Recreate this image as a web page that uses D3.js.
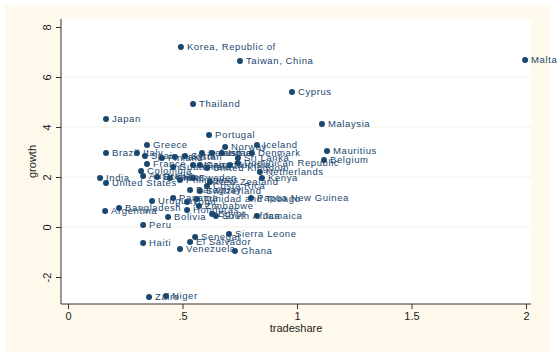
<!DOCTYPE html>
<html><head><meta charset="utf-8">
<script src="https://cdn.jsdelivr.net/npm/d3@7"></script>
<style>
html,body{margin:0;padding:0;background:#fff;}
svg{display:block;font-family:"Liberation Sans",Arial,sans-serif;}
</style></head>
<body>
<script>
const countries = ["Korea, Republic of","Taiwan, China","Malta","Cyprus","Thailand","Japan","Malaysia","Portugal","Greece","Brazil","Mauritius","Belgium","Norway","Iceland","Italy","Spain","Finland","France","Colombia","Australia","India","United States","Sri Lanka","Dominican Republic","Netherlands","Kenya","Costa Rica","Switzerland","Trinidad and Tobago","Papua New Guinea","Zimbabwe","South Africa","Jamaica","Honduras","Bolivia","Bangladesh","Argentina","Uruguay","Peru","Haiti","Venezuela","El Salvador","Senegal","Sierra Leone","Ghana","Zaire","Niger","Ireland","Austria","Israel","Denmark","Pakistan","Syria","Guatemala","Mexico","Canada","United Kingdom","Tunisia","Ecuador","Chile","Philippines","Sweden","New Zealand","Paraguay","Panama","Togo","Egypt"];
const tradeshare = [0.493,0.751,1.996,0.978,0.546,0.166,1.109,0.616,0.345,0.166,1.131,1.118,0.686,0.825,0.301,0.336,0.41,0.345,0.319,0.328,0.14,0.166,0.742,0.742,0.838,0.847,0.607,0.576,0.563,0.799,0.572,0.646,0.825,0.52,0.437,0.223,0.162,0.367,0.328,0.328,0.489,0.533,0.555,0.703,0.729,0.354,0.428,0.585,0.629,0.672,0.803,0.467,0.511,0.459,0.546,0.576,0.607,0.707,0.389,0.445,0.489,0.546,0.620,0.533,0.459,0.520,0.629];
const growth = [7.20,6.64,6.68,5.40,4.92,4.32,4.12,3.68,3.28,2.96,3.04,2.68,3.20,3.28,2.96,2.84,2.76,2.52,2.24,2.04,1.96,1.76,2.76,2.56,2.20,1.96,1.64,1.44,1.12,1.16,0.84,0.44,0.44,0.68,0.40,0.76,0.64,1.04,0.08,-0.64,-0.88,-0.60,-0.40,-0.28,-0.96,-2.80,-2.76,2.96,2.96,2.96,2.96,2.80,2.84,2.40,2.48,2.48,2.36,2.48,2.00,1.96,1.88,1.96,1.80,1.48,1.16,1.00,0.52];
const xTicks = [0,0.5,1,1.5,2];
const xTickLabels = ["0",".5","1","1.5","2"];
const yTicks = [-2,0,2,4,6,8];
const yTickLabels = ["-2","0","2","4","6","8"];
const xTitle = "tradeshare", yTitle = "growth";

const W = 558, H = 357;
const navy = "#1a476f";
const svg = d3.select("body").append("svg").attr("width", W).attr("height", H);

// outer graph region
svg.append("rect").attr("x",5).attr("y",5).attr("width",545).attr("height",347).attr("fill","#fff9ec");

const x = d3.scaleLinear().domain([0,2]).range([68,526]);
const y = d3.scaleLinear().domain([-2,8]).range([277,27]);
const L = 61, R = 531, T = 19, B = 304;

// plot region
svg.append("rect").attr("x",L).attr("y",T).attr("width",R-L).attr("height",B-T).attr("fill","#ffffff");

// grid
svg.append("g").selectAll("line").data(yTicks.filter(d=>d>-2 && d<8)).join("line")
  .attr("x1",L).attr("x2",R).attr("y1",d=>y(d)).attr("y2",d=>y(d))
  .attr("stroke","#f3efe2").attr("stroke-width",1);

// axes
const yAxis = d3.axisLeft(y).tickValues(yTicks).tickSize(5).tickFormat((d,i)=>yTickLabels[i]);
const gy = svg.append("g").attr("transform",`translate(${L},0)`).call(yAxis);
gy.select(".domain").attr("d",`M0,${T}V${B}`).attr("stroke","#333");
gy.selectAll(".tick line").attr("stroke","#333");
gy.selectAll(".tick text").attr("font-size",11).attr("fill","#222")
  .attr("transform","rotate(-90)").attr("text-anchor","middle")
  .attr("x",0).attr("y",-14).attr("dy","0.32em");

const xAxis = d3.axisBottom(x).tickValues(xTicks).tickSize(5).tickFormat((d,i)=>xTickLabels[i]);
const gx = svg.append("g").attr("transform",`translate(0,${B})`).call(xAxis);
gx.select(".domain").attr("d",`M${L},0H${R}`).attr("stroke","#333");
gx.selectAll(".tick line").attr("stroke","#333");
gx.selectAll(".tick text").attr("font-size",11).attr("fill","#222").attr("y",8);

svg.append("text").attr("x",(L+R)/2).attr("y",332).attr("text-anchor","middle")
  .attr("font-size",11).attr("fill","#222").text(xTitle);
svg.append("text").attr("transform",`translate(36,${(T+B)/2}) rotate(-90)`)
  .attr("text-anchor","middle").attr("font-size",11).attr("fill","#222").text(yTitle);

// points
const data = countries.map((c,i)=>({c, xv:tradeshare[i], yv:growth[i]}));
const g = svg.append("g");
g.selectAll("circle").data(data).join("circle")
  .attr("cx",d=>x(d.xv)).attr("cy",d=>y(d.yv)).attr("r",3).attr("fill",navy);
g.selectAll("text").data(data).join("text")
  .attr("x",d=>x(d.xv)+6).attr("y",d=>y(d.yv)).attr("dy","0.35em")
  .attr("font-size",9.5).attr("letter-spacing","0.6px").attr("fill",navy).text(d=>d.c);
</script>
</body></html>
